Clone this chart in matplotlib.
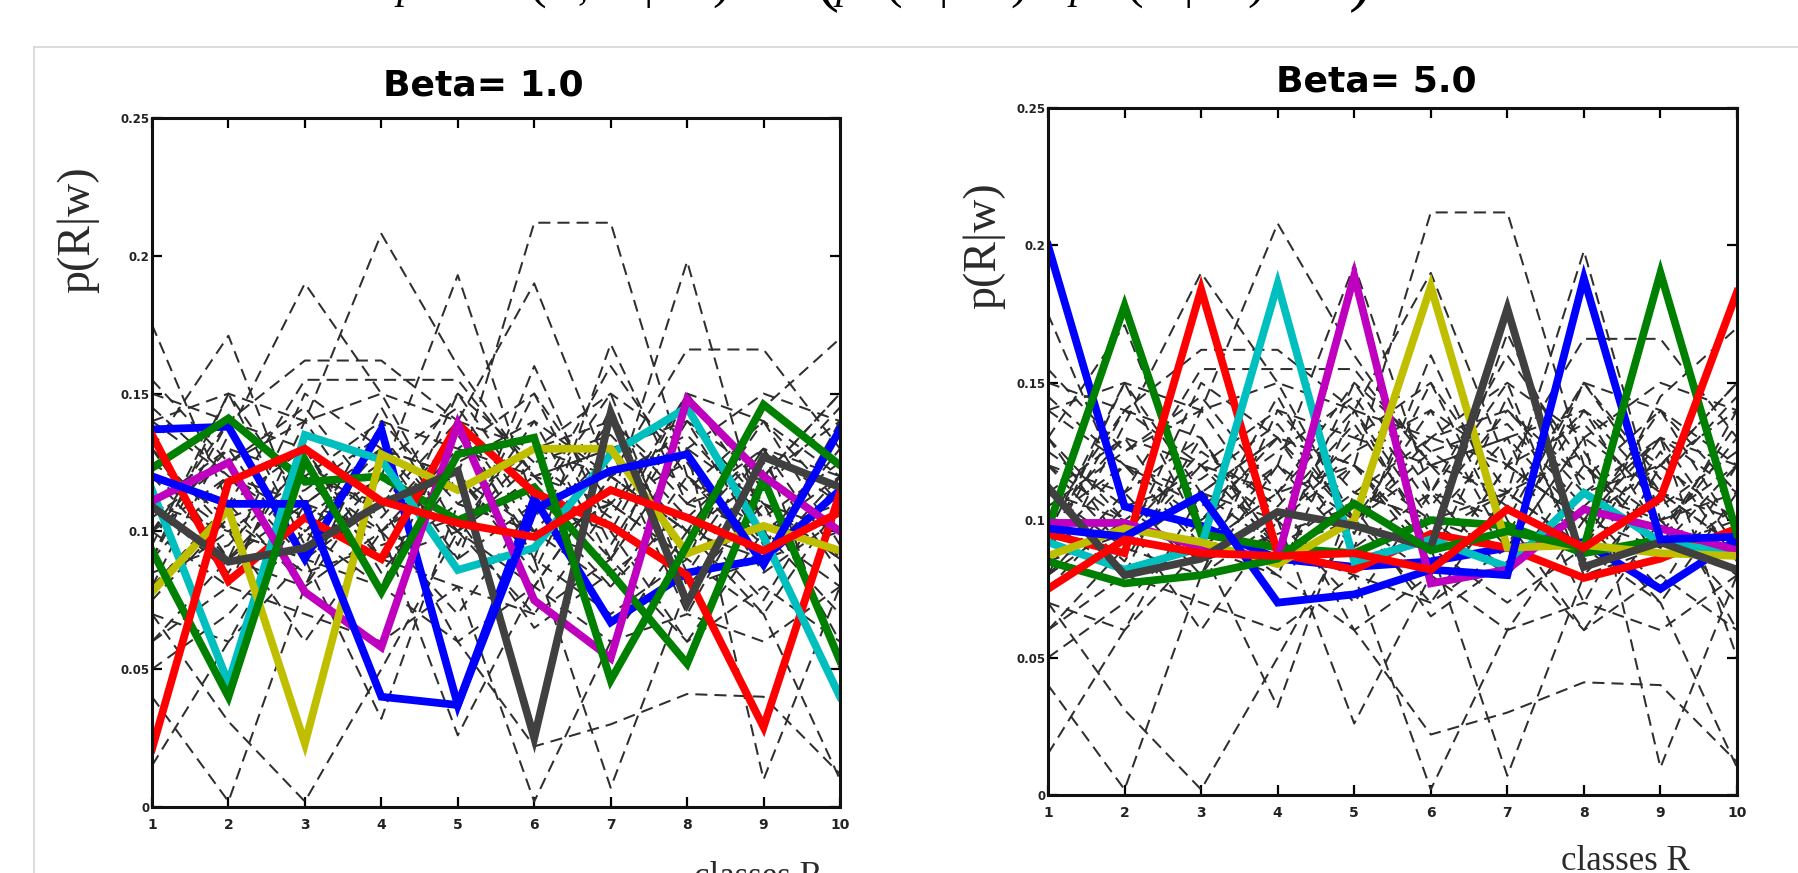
import matplotlib.pyplot as plt
from matplotlib.lines import Line2D

# --- data ---
classes = list(range(1, 11))
yticks = [0, 0.05, 0.1, 0.15, 0.2, 0.25]
ytick_labels = ['0', '0.05', '0.1', '0.15', '0.2', '0.25']
titles = ['Beta= 1.0', 'Beta= 5.0']
ylabel = 'p(R|w)'
xlabel = 'classes R'

# matlab-ish colour order b g r c m y k b g r
curve_colors = ['#0000ff', '#008000', '#ff0000', '#00bfbf', '#bf00bf',
                '#bfbf00', '#404040', '#0000ff', '#008000', '#ff0000']

# grey dashed word distributions (same in both panels)
dashed_series = [
    [0.090, 0.120, 0.100, 0.130, 0.120, 0.212, 0.212, 0.120, 0.095, 0.130],
    [0.100, 0.080, 0.140, 0.208, 0.160, 0.120, 0.090, 0.130, 0.110, 0.060],
    [0.080, 0.135, 0.190, 0.150, 0.100, 0.070, 0.110, 0.090, 0.130, 0.090],
    [0.120, 0.100, 0.090, 0.120, 0.193, 0.110, 0.150, 0.080, 0.090, 0.120],
    [0.060, 0.090, 0.120, 0.110, 0.140, 0.190, 0.120, 0.100, 0.070, 0.110],
    [0.110, 0.090, 0.080, 0.100, 0.130, 0.120, 0.110, 0.198, 0.100, 0.080],
    [0.175, 0.110, 0.130, 0.090, 0.100, 0.080, 0.120, 0.100, 0.140, 0.110],
    [0.130, 0.171, 0.100, 0.120, 0.090, 0.110, 0.080, 0.120, 0.090, 0.100],
    [0.100, 0.130, 0.090, 0.110, 0.120, 0.090, 0.168, 0.110, 0.100, 0.120],
    [0.110, 0.100, 0.120, 0.090, 0.110, 0.130, 0.120, 0.166, 0.166, 0.130],
    [0.090, 0.140, 0.162, 0.162, 0.140, 0.100, 0.110, 0.090, 0.145, 0.170],
    [0.120, 0.110, 0.155, 0.155, 0.155, 0.120, 0.130, 0.100, 0.120, 0.140],
    [0.040, 0.002, 0.080, 0.120, 0.100, 0.130, 0.140, 0.110, 0.120, 0.150],
    [0.070, 0.031, 0.002, 0.050, 0.100, 0.120, 0.130, 0.140, 0.110, 0.100],
    [0.100, 0.120, 0.110, 0.090, 0.080, 0.002, 0.060, 0.100, 0.130, 0.120],
    [0.080, 0.100, 0.090, 0.110, 0.060, 0.022, 0.030, 0.041, 0.040, 0.012],
    [0.130, 0.090, 0.110, 0.100, 0.120, 0.090, 0.007, 0.080, 0.110, 0.090],
    [0.015, 0.060, 0.110, 0.130, 0.120, 0.100, 0.090, 0.130, 0.010, 0.080],
    [0.140, 0.120, 0.090, 0.032, 0.110, 0.100, 0.080, 0.110, 0.130, 0.050],
    [0.110, 0.130, 0.120, 0.100, 0.026, 0.080, 0.120, 0.100, 0.090, 0.140],
    [0.150, 0.140, 0.120, 0.140, 0.130, 0.150, 0.110, 0.140, 0.120, 0.150],
    [0.140, 0.150, 0.140, 0.150, 0.140, 0.130, 0.150, 0.130, 0.150, 0.140],
    [0.060, 0.080, 0.070, 0.060, 0.080, 0.070, 0.090, 0.060, 0.080, 0.060],
    [0.070, 0.060, 0.090, 0.080, 0.060, 0.080, 0.060, 0.070, 0.060, 0.080],
    [0.100, 0.140, 0.130, 0.090, 0.150, 0.110, 0.160, 0.120, 0.100, 0.110],
    [0.120, 0.090, 0.150, 0.130, 0.090, 0.160, 0.100, 0.150, 0.110, 0.090],
    [0.080, 0.110, 0.080, 0.140, 0.110, 0.100, 0.130, 0.070, 0.120, 0.100],
    [0.050, 0.070, 0.100, 0.080, 0.140, 0.090, 0.070, 0.090, 0.070, 0.010],
    [0.090, 0.150, 0.110, 0.130, 0.100, 0.140, 0.090, 0.150, 0.140, 0.120],
    [0.130, 0.100, 0.060, 0.100, 0.070, 0.110, 0.100, 0.060, 0.100, 0.070],
    [0.105, 0.125, 0.140, 0.100, 0.125, 0.140, 0.120, 0.135, 0.105, 0.125],
    [0.125, 0.105, 0.115, 0.135, 0.100, 0.125, 0.135, 0.105, 0.130, 0.110],
    [0.085, 0.095, 0.125, 0.105, 0.135, 0.095, 0.110, 0.125, 0.085, 0.105],
    [0.145, 0.120, 0.105, 0.125, 0.145, 0.105, 0.140, 0.115, 0.140, 0.095],
    [0.095, 0.150, 0.095, 0.145, 0.095, 0.150, 0.095, 0.140, 0.095, 0.135],
    [0.110, 0.085, 0.130, 0.085, 0.120, 0.085, 0.145, 0.085, 0.125, 0.085],
    [0.155, 0.125, 0.145, 0.110, 0.150, 0.125, 0.105, 0.150, 0.115, 0.145],
    [0.075, 0.105, 0.085, 0.095, 0.105, 0.065, 0.085, 0.105, 0.075, 0.120],
]

# class distributions, beta = 1
beta1_curves = [
    [0.137, 0.138, 0.090, 0.137, 0.037, 0.112, 0.067, 0.085, 0.090, 0.115],
    [0.123, 0.141, 0.118, 0.120, 0.104, 0.116, 0.085, 0.052, 0.119, 0.053],
    [0.135, 0.082, 0.105, 0.090, 0.139, 0.114, 0.102, 0.084, 0.029, 0.114],
    [0.115, 0.045, 0.135, 0.126, 0.086, 0.094, 0.128, 0.145, 0.098, 0.040],
    [0.111, 0.125, 0.078, 0.058, 0.139, 0.075, 0.054, 0.148, 0.120, 0.100],
    [0.078, 0.108, 0.023, 0.128, 0.115, 0.130, 0.130, 0.092, 0.102, 0.093],
    [0.109, 0.089, 0.094, 0.110, 0.122, 0.025, 0.143, 0.074, 0.127, 0.116],
    [0.120, 0.110, 0.110, 0.040, 0.037, 0.108, 0.122, 0.128, 0.088, 0.137],
    [0.093, 0.040, 0.126, 0.078, 0.128, 0.134, 0.046, 0.095, 0.146, 0.124],
    [0.021, 0.118, 0.130, 0.111, 0.103, 0.098, 0.115, 0.105, 0.093, 0.107],
]

# class distributions, beta = 5
beta5_curves = [
    [0.200, 0.105, 0.098, 0.086, 0.083, 0.085, 0.090, 0.092, 0.075, 0.093],
    [0.097, 0.178, 0.095, 0.090, 0.088, 0.100, 0.098, 0.088, 0.093, 0.087],
    [0.095, 0.088, 0.184, 0.088, 0.082, 0.095, 0.090, 0.079, 0.086, 0.097],
    [0.092, 0.082, 0.090, 0.186, 0.085, 0.093, 0.083, 0.110, 0.092, 0.088],
    [0.099, 0.099, 0.090, 0.086, 0.189, 0.077, 0.082, 0.104, 0.097, 0.089],
    [0.087, 0.097, 0.092, 0.084, 0.100, 0.185, 0.090, 0.091, 0.088, 0.087],
    [0.112, 0.080, 0.086, 0.103, 0.098, 0.090, 0.177, 0.083, 0.092, 0.082],
    [0.097, 0.094, 0.109, 0.070, 0.073, 0.082, 0.080, 0.188, 0.093, 0.094],
    [0.085, 0.077, 0.080, 0.086, 0.106, 0.089, 0.096, 0.090, 0.190, 0.095],
    [0.075, 0.093, 0.088, 0.087, 0.088, 0.082, 0.104, 0.090, 0.108, 0.183],
]

# --- figure (pixel layout of the slide) ---
W, H = 1799, 873
fig = plt.figure(figsize=(W / 100, H / 100), dpi=100)
fig.patch.set_facecolor('white')


def box(x0, y0, x1, y1):
    return [x0 / W, 1 - y1 / H, (x1 - x0) / W, (y1 - y0) / H]


# slide panel border
fig.add_artist(Line2D([34 / W, 1], [1 - 47 / H, 1 - 47 / H], transform=fig.transFigure,
                      color='#d6d6d6', lw=1.2))
fig.add_artist(Line2D([34 / W, 34 / W], [0, 1 - 47 / H], transform=fig.transFigure,
                      color='#d6d6d6', lw=1.2))

# formula cut off at the top of the slide (only the lower parts show)
formula_bits = [(407, 'p', 30, 'italic'), (537, '(', 38, 'normal'), (583, ',', 30, 'normal'),
                (648, '|', 34, 'normal'), (721, ')', 38, 'normal'), (828, '(', 50, 'normal'),
                (846, 'p', 30, 'italic'), (893, '(', 38, 'normal'), (943, '|', 34, 'normal'),
                (1019, ')', 38, 'normal'), (1080, 'p', 30, 'italic'), (1134, '(', 38, 'normal'),
                (1188, '|', 34, 'normal'), (1256, ')', 38, 'normal'), (1360, ')', 50, 'normal')]
for fx, txt, fs, st in formula_bits:
    fig.text(fx / W, 1.0 + 2 / H, txt, ha='center', va='baseline', fontsize=fs, style=st,
             family='Liberation Serif', color='black')

panels = [
    (box(152, 118, 840, 807), beta1_curves, titles[0], (483, 86), (78, 230), (758, 886)),
    (box(1048, 108, 1737, 795), beta5_curves, titles[1], (1376, 82), (984, 246), (1625, 870)),
]

for rect, curves, title, tpos, ylpos, xlpos in panels:
    ax = fig.add_axes(rect)
    for s in dashed_series:
        ax.plot(classes, s, color='#2e2e2e', lw=1.45, ls=(0, (6, 3.5)))
    for s, c in zip(curves, curve_colors):
        ax.plot(classes, s, color=c, lw=5.6, solid_joinstyle='miter')

    ax.set_xlim(1, 10)
    ax.set_ylim(0, 0.25)
    ax.set_xticks(classes)
    ax.set_xticklabels([str(c) for c in classes], fontsize=10, fontweight='bold', color='#222222')
    ax.set_yticks(yticks)
    ax.set_yticklabels(ytick_labels, fontsize=8.5, fontweight='bold', color='#222222')
    ax.tick_params(direction='in', length=7, width=1.6, top=True, right=True)
    ax.tick_params(axis='y', pad=2)
    ax.tick_params(axis='x', pad=8)
    for sp in ax.spines.values():
        sp.set_linewidth(2.2)
        sp.set_color('#111111')

    fig.text(tpos[0] / W, 1 - tpos[1] / H, title, ha='center', va='center',
             fontsize=26, fontweight='bold', family='DejaVu Sans', color='black')
    fig.text(ylpos[0] / W, 1 - ylpos[1] / H, ylabel, ha='center', va='center', rotation=90,
             fontsize=33, family='Liberation Serif', color='#2a2a2a')
    fig.text(xlpos[0] / W, 1 - xlpos[1] / H, xlabel, ha='center', va='baseline',
             fontsize=25, family='Liberation Serif', color='#2a2a2a')

fig.savefig('out.png', dpi=100, facecolor='white')
